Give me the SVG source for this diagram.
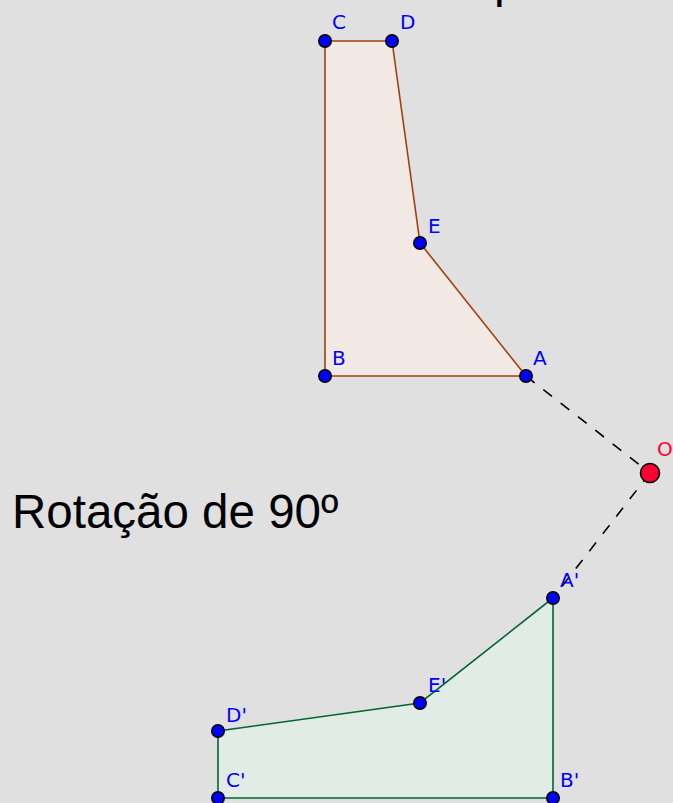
<svg xmlns="http://www.w3.org/2000/svg" width="673" height="803" viewBox="0 0 673 803">
<style>
.lbl{font-family:"DejaVu Sans",sans-serif;font-size:20px;fill:#0000ff}
.pt{fill:#0000ff;stroke:#000;stroke-width:1.6}
.dash{stroke:#000;stroke-width:1.6;stroke-dasharray:11 11;fill:none}
</style>
<rect width="673" height="803" fill="#e0e0e0"/>
<text x="494" y="-3" font-family="Liberation Sans, Arial, sans-serif" font-size="48" fill="#000">p</text>
<text x="12" y="528" font-family="Liberation Sans, Arial, sans-serif" font-size="47.5" fill="#000">Rotação de 90º</text>
<g id="connectors">
<line class="dash" x1="526" y1="376" x2="650" y2="473"/>
<line class="dash" x1="650" y1="473" x2="553" y2="598"/>
</g>
<g id="original">
<polygon points="526,376 325,376 325,41 392,41 420,243" fill="#f3e9e4" stroke="#a0410d" stroke-width="1.6"/>
</g>
<g id="image">
<polygon points="553,598 553,798 218,798 218,731 420,703" fill="#e2ece6" stroke="#006633" stroke-width="1.6"/>
</g>
<g id="A"><circle class="pt" cx="526" cy="376" r="6.2"/><text class="lbl" x="533" y="365">A</text></g>
<g id="B"><circle class="pt" cx="325" cy="376" r="6.2"/><text class="lbl" x="332" y="365">B</text></g>
<g id="C"><circle class="pt" cx="325" cy="41" r="6.2"/><text class="lbl" x="332" y="29">C</text></g>
<g id="D"><circle class="pt" cx="392" cy="41" r="6.2"/><text class="lbl" x="400" y="29">D</text></g>
<g id="E"><circle class="pt" cx="420" cy="243" r="6.2"/><text class="lbl" x="428" y="233">E</text></g>
<g id="O"><circle cx="650" cy="473" r="9.5" fill="#ff0033" stroke="#000" stroke-width="1.6"/><text class="lbl" x="657" y="456" style="fill:#ff0033">O</text></g>
<g id="A1"><circle class="pt" cx="553" cy="598" r="6.2"/><text class="lbl" x="560" y="587">A'</text></g>
<g id="B1"><circle class="pt" cx="553" cy="798" r="6.2"/><text class="lbl" x="560" y="787">B'</text></g>
<g id="C1"><circle class="pt" cx="218" cy="798" r="6.2"/><text class="lbl" x="226" y="787">C'</text></g>
<g id="D1"><circle class="pt" cx="218" cy="731" r="6.2"/><text class="lbl" x="226" y="722">D'</text></g>
<g id="E1"><circle class="pt" cx="420" cy="703" r="6.2"/><text class="lbl" x="428" y="692">E'</text></g>
</svg>
